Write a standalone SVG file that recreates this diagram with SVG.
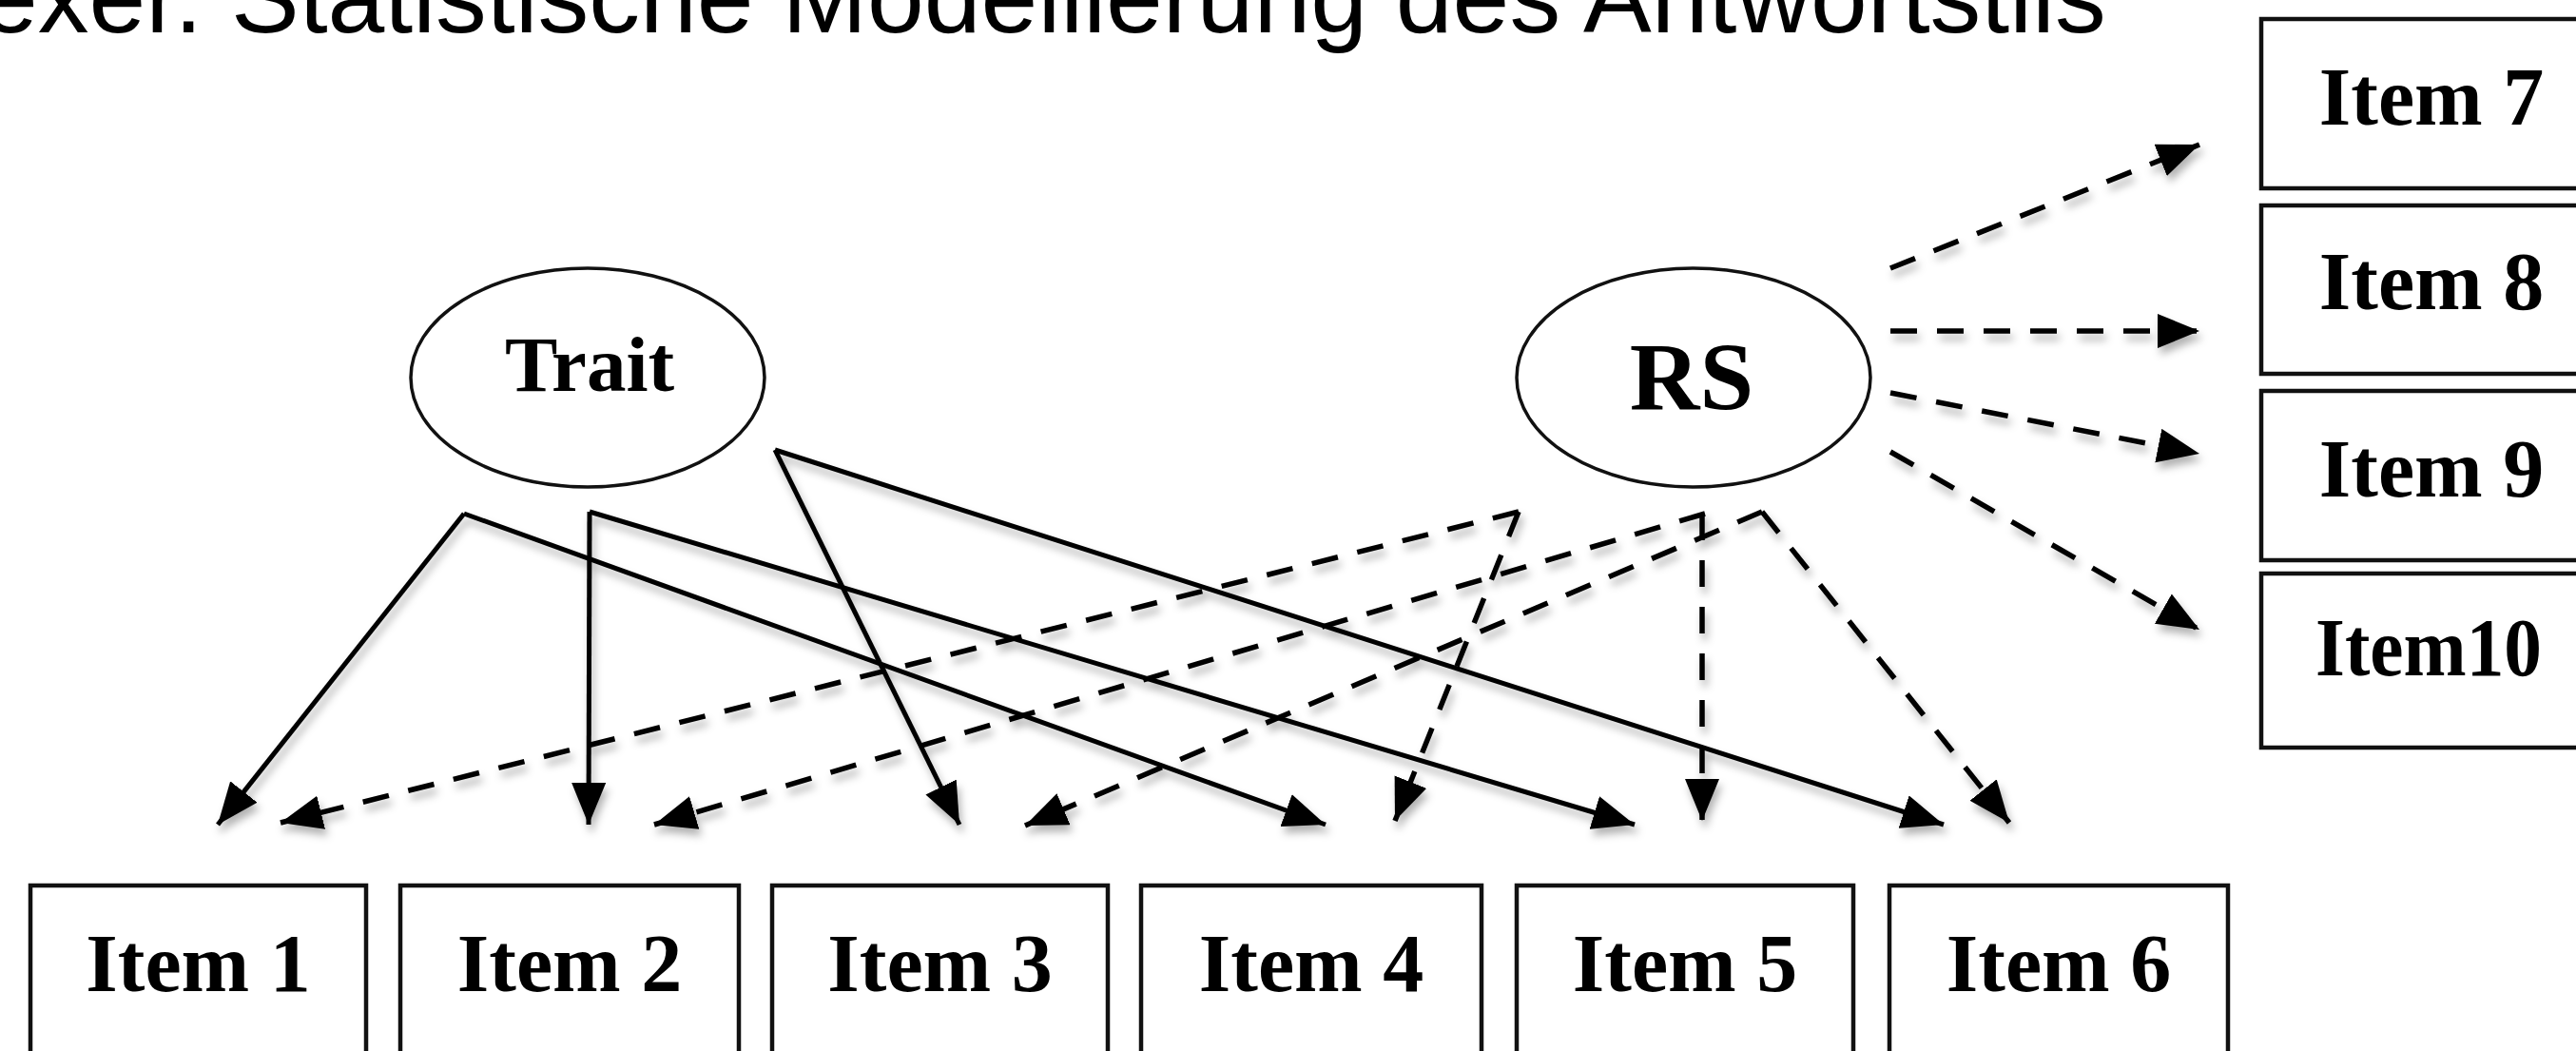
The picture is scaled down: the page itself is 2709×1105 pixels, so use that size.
<svg xmlns="http://www.w3.org/2000/svg" width="2709" height="1105" viewBox="0 0 2709 1105">
<style>
.box{fill:#fff;stroke:#111;stroke-width:4.5}
.ell{fill:#fff;stroke:#111;stroke-width:3.5}
.lbl{font-family:"Liberation Serif","Times New Roman",serif;font-weight:bold;fill:#000;text-anchor:middle}
.item{font-size:86px}
.solid{fill:none;stroke:#000;stroke-width:5;marker-end:url(#ah)}
.dash{fill:none;stroke:#000;stroke-width:5.5;stroke-dasharray:28 21;marker-end:url(#ah)}
.title{font-family:"Liberation Sans",Arial,Helvetica,sans-serif;font-size:107.5px;fill:#000}
</style>
<defs>
<marker id="ah" markerUnits="userSpaceOnUse" markerWidth="46" markerHeight="38" refX="44" refY="18" orient="auto">
<path d="M0,0 L44,18 L0,36 z" fill="#000"/>
</marker>
<filter id="sh" x="-10%" y="-10%" width="120%" height="130%">
<feDropShadow dx="3" dy="7" stdDeviation="4" flood-color="#000" flood-opacity="0.3"/>
</filter>
</defs>
<rect width="2709" height="1105" fill="#fff"/>
<text class="title" x="-20" y="34">exer. Statistische Modellierung des Antwortstils</text>

<g id="connectors" filter="url(#sh)">
<line class="solid" x1="488" y1="540" x2="229" y2="867"/>
<line class="solid" x1="488" y1="540" x2="1394" y2="867"/>
<line class="solid" x1="620" y1="538" x2="619" y2="867"/>
<line class="solid" x1="620" y1="538" x2="1719" y2="867"/>
<line class="solid" x1="815" y1="473" x2="1009" y2="867"/>
<line class="solid" x1="815" y1="473" x2="2044" y2="867"/>
<line class="dash" x1="1597" y1="538" x2="295" y2="865"/>
<line class="dash" x1="1597" y1="538" x2="1467" y2="863"/>
<line class="dash" x1="1793" y1="540" x2="688" y2="867"/>
<line class="dash" x1="1853" y1="538" x2="1078" y2="868"/>
<line class="dash" x1="1790" y1="540" x2="1790" y2="863"/>
<line class="dash" x1="1853" y1="538" x2="2113" y2="865"/>
<line class="dash" x1="1988" y1="282" x2="2313" y2="152"/>
<line class="dash" x1="1988" y1="348" x2="2313" y2="348"/>
<line class="dash" x1="1988" y1="413" x2="2313" y2="477"/>
<line class="dash" x1="1988" y1="475" x2="2313" y2="662"/>
</g>

<g id="trait">
<ellipse class="ell" cx="618" cy="397" rx="186" ry="115"/>
<text class="lbl" x="620" y="411" font-size="83">Trait</text>
</g>
<g id="rs">
<ellipse class="ell" cx="1781" cy="397" rx="186" ry="115"/>
<text class="lbl" x="1779" y="431" font-size="102">RS</text>
</g>

<g id="item1"><rect class="box" x="32" y="931" width="353" height="200"/><text class="lbl item" x="208.5" y="1042">Item 1</text></g>
<g id="item2"><rect class="box" x="421" y="931" width="356" height="200"/><text class="lbl item" x="599" y="1042">Item 2</text></g>
<g id="item3"><rect class="box" x="812" y="931" width="353" height="200"/><text class="lbl item" x="988.5" y="1042">Item 3</text></g>
<g id="item4"><rect class="box" x="1200" y="931" width="358" height="200"/><text class="lbl item" x="1379" y="1042">Item 4</text></g>
<g id="item5"><rect class="box" x="1595" y="931" width="354" height="200"/><text class="lbl item" x="1772" y="1042">Item 5</text></g>
<g id="item6"><rect class="box" x="1987" y="931" width="356" height="200"/><text class="lbl item" x="2165" y="1042">Item 6</text></g>

<g id="item7"><rect class="box" x="2378" y="20" width="360" height="178"/><text class="lbl item" x="2557" y="131">Item 7</text></g>
<g id="item8"><rect class="box" x="2378" y="216" width="360" height="177"/><text class="lbl item" x="2557" y="325">Item 8</text></g>
<g id="item9"><rect class="box" x="2378" y="411" width="360" height="178"/><text class="lbl item" x="2557" y="522">Item 9</text></g>
<g id="item10"><rect class="box" x="2378" y="603" width="360" height="183"/><text class="lbl item" x="2554" y="710" textLength="238" lengthAdjust="spacingAndGlyphs">Item10</text></g>
</svg>
